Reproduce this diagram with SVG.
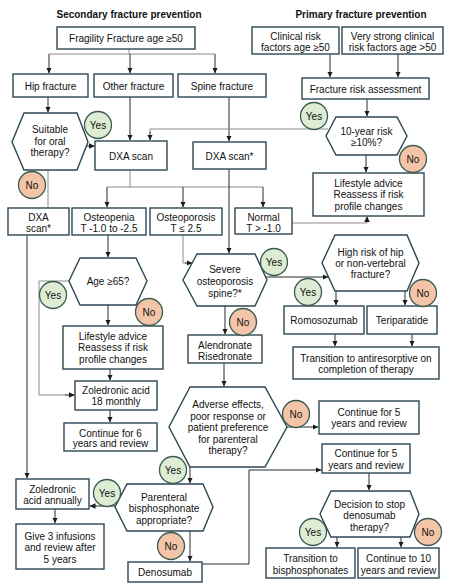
<svg xmlns="http://www.w3.org/2000/svg" width="455" height="587" viewBox="0 0 455 587">
<defs>
<marker id="ah" markerUnits="userSpaceOnUse" markerWidth="6" markerHeight="6" refX="5.5" refY="3" orient="auto">
<path d="M0,0.2 L5.8,3 L0,5.8 z" fill="#1a1a1a"/>
</marker>
<style>
.box{fill:#fff;stroke:#2d4654;stroke-width:1.4}
.t{font-family:"Liberation Sans",Arial,sans-serif;font-size:10px;fill:#111;text-anchor:middle}
.b{font-weight:bold}
.c{fill:none;stroke:#2a2a2a;stroke-width:1;marker-end:url(#ah)}
.g{fill:none;stroke:#8c8c8c;stroke-width:1}
.yes{fill:#dcedd4;stroke:#3a5a4f;stroke-width:1.3}
.no{fill:#f4c4a8;stroke:#3a5a4f;stroke-width:1.3}
</style>
</defs>
<rect width="455" height="587" fill="#fff"/>
<text class="t b" x="129" y="17.5">Secondary fracture prevention</text>
<text class="t b" x="361" y="17.5">Primary fracture prevention</text>

<g id="connectors">
<path class="g" d="M129,49 V54 M49,54 H215"/>
<path class="c" d="M49,54 V73"/>
<path class="c" d="M130,54 V73"/>
<path class="c" d="M215,54 V73"/>
<path class="c" d="M48,97 V112"/>
<path class="c" d="M130,97 V140"/>
<path class="c" d="M229,96 V141"/>
<path class="c" d="M87,146 H94.5"/>
<path class="g" d="M328,129 H150 V133"/>
<path class="c" d="M150,132 V140"/>
<path class="c" d="M330,54 V77"/>
<path class="c" d="M398,54 V77"/>
<path class="c" d="M367,99 V116"/>
<path class="c" d="M366,155 V172"/>
<path class="g" d="M48,170 V208"/>
<path class="g" d="M130,170 V187 M107,187 H263"/>
<path class="c" d="M107,187 V207"/>
<path class="c" d="M183,187 V207"/>
<path class="c" d="M263,187 V207"/>
<path class="c" d="M229,169 V253"/>
<path class="c" d="M108,235 V257"/>
<path class="g" d="M183,235 V263 H186"/>
<path class="c" d="M185,263 H192"/>
<path class="g" d="M292,223 H367 V220"/>
<path class="c" d="M367,222 V216.5"/>
<path class="g" d="M69,281 H39 V395 H66"/>
<path class="c" d="M65,395 H74.5"/>
<path class="c" d="M108,305 V325"/>
<path class="c" d="M110,369 V380"/>
<path class="c" d="M110,410 V422"/>
<path class="c" d="M27,235 V478"/>
<path class="c" d="M266,277 H328"/>
<path class="c" d="M225,306 V334"/>
<path class="c" d="M336,291 V305"/>
<path class="c" d="M405,291 V305"/>
<path class="c" d="M335,334 V346"/>
<path class="c" d="M412,334 V346"/>
<path class="c" d="M224,363 V386"/>
<path class="c" d="M287,427 H318"/>
<path class="c" d="M190,467 V483"/>
<path class="c" d="M115,506 H90"/>
<path class="c" d="M55,509 V523"/>
<path class="c" d="M190,531 V561"/>
<path class="c" d="M202,564 H249 V470 H321"/>
<path class="c" d="M369,473 V490"/>
<path class="c" d="M337,537 V547"/>
<path class="c" d="M401,537 V547"/>
</g>

<g id="n_fragility"><rect class="box" x="57" y="27" width="138" height="22"/><text class="t" x="126" y="41.5">Fragility Fracture age ≥50</text></g>
<g id="n_clinical"><rect class="box" x="252" y="27" width="87" height="27"/><text class="t" x="295.5" y="39.5">Clinical risk</text><text class="t" x="295.5" y="51">factors age ≥50</text></g>
<g id="n_verystrong"><rect class="box" x="342" y="27" width="101" height="27"/><text class="t" x="392.5" y="39.5">Very strong clinical</text><text class="t" x="392.5" y="51">risk factors age &gt;50</text></g>
<g id="n_fra"><rect class="box" x="302" y="78" width="127" height="21"/><text class="t" x="365.5" y="92.5">Fracture risk assessment</text></g>
<g id="n_hip"><rect class="box" x="13" y="74" width="75" height="23"/><text class="t" x="50.5" y="89.5">Hip fracture</text></g>
<g id="n_other"><rect class="box" x="94" y="74" width="79" height="23"/><text class="t" x="133.5" y="89.5">Other fracture</text></g>
<g id="n_spine"><rect class="box" x="178" y="74" width="88" height="23"/><text class="t" x="222" y="89.5">Spine fracture</text></g>
<g id="n_suitable"><polygon class="box" points="24,113 77,113 88,142 77,170 24,170 12,142"/><text class="t" x="50" y="133">Suitable</text><text class="t" x="50" y="144.5">for oral</text><text class="t" x="50" y="156">therapy?</text></g>
<g id="n_dxa"><rect class="box" x="95" y="141" width="72" height="29"/><text class="t" x="131" y="160">DXA scan</text></g>
<g id="n_dxa2"><rect class="box" x="193" y="142" width="73" height="27"/><text class="t" x="229.5" y="159.5">DXA scan*</text></g>
<g id="n_10yr"><polygon class="box" points="336,117 397,117 407,136 397,155 336,155 326,136"/><text class="t" x="366.5" y="135">10-year risk</text><text class="t" x="366.5" y="146">≥10%?</text></g>
<g id="n_lifeR"><rect class="box" x="313" y="173" width="111" height="43"/><text class="t" x="368.5" y="186.5">Lifestyle advice</text><text class="t" x="368.5" y="198">Reassess if risk</text><text class="t" x="368.5" y="209.5">profile changes</text></g>
<g id="n_dxaL"><rect class="box" x="8" y="208" width="61" height="27"/><text class="t" x="38.5" y="221">DXA</text><text class="t" x="38.5" y="232">scan*</text></g>
<g id="n_osteopenia"><rect class="box" x="72" y="208" width="74" height="27"/><text class="t" x="109" y="221">Osteopenia</text><text class="t" x="109" y="232">T -1.0 to -2.5</text></g>
<g id="n_osteoporosis"><rect class="box" x="150" y="208" width="72" height="27"/><text class="t" x="186" y="221">Osteoporosis</text><text class="t" x="186" y="232">T ≤ 2.5</text></g>
<g id="n_normal"><rect class="box" x="235" y="208" width="57" height="26"/><text class="t" x="263.5" y="221">Normal</text><text class="t" x="263.5" y="231.5">T &gt; -1.0</text></g>
<g id="n_age"><polygon class="box" points="80,258 136,258 147,281 136,305 80,305 69,281"/><text class="t" x="108" y="285">Age ≥65?</text></g>
<g id="n_severe"><polygon class="box" points="197,254 255,254 267,280 255,306 197,306 183,280"/><text class="t" x="225" y="273">Severe</text><text class="t" x="225" y="285">osteoporosis</text><text class="t" x="225" y="296.5">spine?*</text></g>
<g id="n_highrisk"><polygon class="box" points="335,235 407,235 419,263 407,291 335,291 322,263"/><text class="t" x="370.5" y="255.5">High risk of hip</text><text class="t" x="370.5" y="266.5">or non-vertebral</text><text class="t" x="370.5" y="277.5">fracture?</text></g>
<g id="n_lifeM"><rect class="box" x="63" y="326" width="100" height="43"/><text class="t" x="113" y="339.5">Lifestyle advice</text><text class="t" x="113" y="351">Reassess if risk</text><text class="t" x="113" y="362.5">profile changes</text></g>
<g id="n_alen"><rect class="box" x="188" y="335" width="74" height="28"/><text class="t" x="225" y="348.5">Alendronate</text><text class="t" x="225" y="360">Risedronate</text></g>
<g id="n_romo"><rect class="box" x="284" y="306" width="80" height="28"/><text class="t" x="324" y="324">Romosozumab</text></g>
<g id="n_teri"><rect class="box" x="367" y="306" width="70" height="28"/><text class="t" x="402" y="324">Teriparatide</text></g>
<g id="n_trans"><rect class="box" x="293" y="347" width="146" height="32"/><text class="t" x="366" y="361.5">Transition to antiresorptive on</text><text class="t" x="366" y="373">completion of therapy</text></g>
<g id="n_zol18"><rect class="box" x="75" y="381" width="82" height="29"/><text class="t" x="116" y="393.5">Zoledronic acid</text><text class="t" x="116" y="404.5">18 monthly</text></g>
<g id="n_cont6"><rect class="box" x="64" y="423" width="93" height="28"/><text class="t" x="110.5" y="436.5">Continue for 6</text><text class="t" x="110.5" y="447">years and review</text></g>
<g id="n_adverse"><polygon class="box" points="190,387 265,387 287,427 265,467 190,467 169,427"/><text class="t" x="228" y="408">Adverse effects,</text><text class="t" x="228" y="419.5">poor response or</text><text class="t" x="228" y="431">patient preference</text><text class="t" x="228" y="442.5">for parenteral</text><text class="t" x="228" y="454">therapy?</text></g>
<g id="n_cont5a"><rect class="box" x="319" y="401" width="100" height="33"/><text class="t" x="369" y="415.5">Continue for 5</text><text class="t" x="369" y="427">years and review</text></g>
<g id="n_cont5b"><rect class="box" x="322" y="444" width="88" height="29"/><text class="t" x="366" y="457">Continue for 5</text><text class="t" x="366" y="469">years and review</text></g>
<g id="n_decision"><polygon class="box" points="331,491 410,491 419,514 410,537 331,537 320,514"/><text class="t" x="369.5" y="507.5">Decision to stop</text><text class="t" x="369.5" y="519">denosumab</text><text class="t" x="369.5" y="530.5">therapy?</text></g>
<g id="n_zolann"><rect class="box" x="16" y="479" width="73" height="30"/><text class="t" x="52.5" y="492.5">Zoledronic</text><text class="t" x="52.5" y="504">acid annually</text></g>
<g id="n_give3"><rect class="box" x="16" y="524" width="88" height="45"/><text class="t" x="60" y="539.5">Give 3 infusions</text><text class="t" x="60" y="551">and review after</text><text class="t" x="60" y="562.5">5 years</text></g>
<g id="n_parenteral"><polygon class="box" points="127,484 203,484 213,507 203,531 127,531 115,507"/><text class="t" x="164" y="500.5">Parenteral</text><text class="t" x="164" y="512">bisphosphonate</text><text class="t" x="164" y="523.5">appropriate?</text></g>
<g id="n_denos"><rect class="box" x="128" y="562" width="74" height="20"/><text class="t" x="165" y="575.5">Denosumab</text></g>
<g id="n_transbis"><rect class="box" x="266" y="548" width="89" height="30"/><text class="t" x="310.5" y="562">Transition to</text><text class="t" x="310.5" y="573.5">bisphosphonates</text></g>
<g id="n_cont10"><rect class="box" x="358" y="548" width="81" height="30"/><text class="t" x="398.5" y="562">Continue to 10</text><text class="t" x="398.5" y="573.5">years and review</text></g>

<g id="labels">
<g><circle class="yes" cx="98" cy="125" r="13.5"/><text class="t" x="98" y="128.5">Yes</text></g>
<g><circle class="yes" cx="314" cy="116" r="13.5"/><text class="t" x="314" y="119.5">Yes</text></g>
<g><circle class="yes" cx="53" cy="295" r="13.5"/><text class="t" x="53" y="298.5">Yes</text></g>
<g><circle class="yes" cx="274" cy="262" r="13.5"/><text class="t" x="274" y="265.5">Yes</text></g>
<g><circle class="yes" cx="308" cy="292" r="13.5"/><text class="t" x="308" y="295.5">Yes</text></g>
<g><circle class="yes" cx="107" cy="493" r="13.5"/><text class="t" x="107" y="496.5">Yes</text></g>
<g><circle class="yes" cx="173" cy="470" r="13.5"/><text class="t" x="173" y="473.5">Yes</text></g>
<g><circle class="yes" cx="313" cy="532" r="13.5"/><text class="t" x="313" y="535.5">Yes</text></g>
<g><circle class="no" cx="32" cy="185" r="13.5"/><text class="t" x="32" y="188.5">No</text></g>
<g><circle class="no" cx="413" cy="159" r="13.5"/><text class="t" x="413" y="162.5">No</text></g>
<g><circle class="no" cx="149" cy="312" r="13.5"/><text class="t" x="149" y="315.5">No</text></g>
<g><circle class="no" cx="243" cy="322" r="13.5"/><text class="t" x="243" y="325.5">No</text></g>
<g><circle class="no" cx="423" cy="293" r="13.5"/><text class="t" x="423" y="296.5">No</text></g>
<g><circle class="no" cx="296" cy="414" r="13.5"/><text class="t" x="296" y="417.5">No</text></g>
<g><circle class="no" cx="171" cy="546" r="13.5"/><text class="t" x="171" y="549.5">No</text></g>
<g><circle class="no" cx="428" cy="532" r="13.5"/><text class="t" x="428" y="535.5">No</text></g>
</g>
</svg>
